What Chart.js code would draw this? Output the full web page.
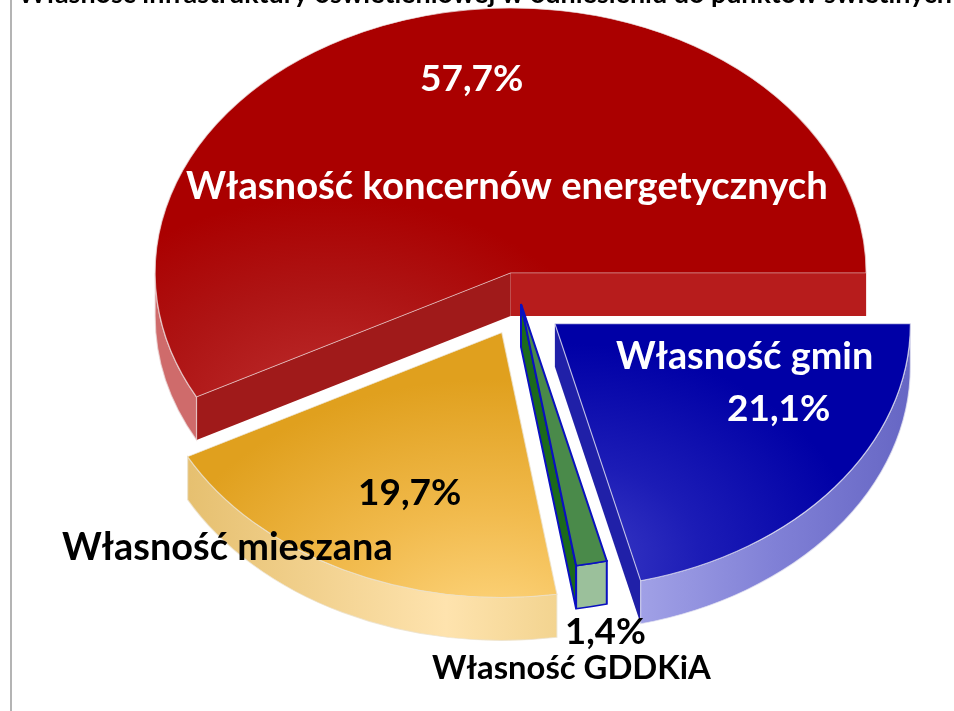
<!DOCTYPE html>
<html lang="pl">
<head>
<meta charset="utf-8">
<title>Własność infrastruktury oświetleniowej</title>
<script src="https://cdn.jsdelivr.net/npm/chart.js@4"></script>
<style>
html,body{margin:0;padding:0;background:#fff;overflow:hidden}
canvas{display:block;filter:blur(0.5px)}
</style>
</head>
<body>
<canvas id="c" width="954" height="711"></canvas>
<script>
const titleText = "Własność infrastruktury oświetleniowej w odniesieniu do punktów świetlnych";
const categories = ["Własność gmin", "Własność GDDKiA", "Własność mieszana", "Własność koncernów energetycznych"];
const shares = [21.1, 1.4, 19.7, 57.7];
const shareLabels = ["21,1%", "1,4%", "19,7%", "57,7%"];
const explode = [43, 0, 43, 43];

const K = 0.745, CX = 521, CY = 304, RADIUS = 355.5, DEPTH = 43;
const sy = y => CY + (y - CY) / K;   // screen y -> squashed-space y

const ctx = document.getElementById('c').getContext('2d');
function radial(x0, y0, r, stops) {
  const g = ctx.createRadialGradient(x0, sy(y0), 0, x0, sy(y0), r);
  stops.forEach(s => g.addColorStop(s[0], s[1]));
  return g;
}
function linear(x0, x1, stops) {
  const g = ctx.createLinearGradient(x0, 0, x1, 0);
  stops.forEach(s => g.addColorStop(s[0], s[1]));
  return g;
}
const topFills = [
  radial(570, 560, 290, [[0, '#3c3cc6'], [0.45, '#1c1cb6'], [1, '#0000a6']]),
  '#4a8a4a',
  radial(490, 640, 350, [[0, '#ffd884'], [0.5, '#f1ba4c'], [1, '#e0a01e']]),
  radial(330, 420, 300, [[0, '#be3030'], [0.6, '#ae1414'], [1, '#aa0000']])
];
const rimFills = [
  linear(642, 910, [[0, '#a0a0e6'], [0.5, '#8080d6'], [1, '#6666c4']]),
  '#9bc09b',
  linear(189, 556, [[0, '#e6c070'], [0.7, '#fee3ae'], [1, '#f3d490']]),
  '#cf6b6b'
];
const cutStart = [null, null, null, '#a01a1a'];
const cutEnd = ['#2020a8', '#1c6a1c', null, '#b71c1c'];
const edgeColors = ['rgba(225,225,240,0.75)', '#0a10c0', 'rgba(235,225,205,0.75)', 'rgba(235,215,215,0.75)'];
const edgeWidths = [1.2, 2, 1.2, 1.2];

const squashPie = {
  id: 'squashPie',
  afterDatasetsUpdate(chart) {
    chart.getDatasetMeta(0).data.forEach((arc, i) => {
      const half = (arc.startAngle + arc.endAngle) / 2;
      arc.x += Math.cos(half) * explode[i];
      arc.y += Math.sin(half) * explode[i];
    });
  },
  beforeDraw(chart) {
    const c = chart.ctx;
    c.save();
    c.fillStyle = '#fff';
    c.fillRect(0, 0, chart.width, chart.height);
    c.fillStyle = '#b4b4b4';
    c.fillRect(10, 0, 2, chart.height);
    c.fillStyle = '#000';
    c.font = 'bold 26.9px Lato';
    c.textAlign = 'left';
    c.textBaseline = 'alphabetic';
    c.fillText(titleText, 18, 3);
    c.restore();
  },
  beforeDatasetsDraw(chart) {
    const c = chart.ctx;
    c.save();
    c.translate(0, CY);
    c.scale(1, K);
    c.translate(0, -CY);
    const d = DEPTH / K;
    const arcs = chart.getDatasetMeta(0).data;
    [3, 2, 1, 0].forEach(i => {
      const arc = arcs[i];
      const x = arc.x, y = arc.y;
      const R = arc.outerRadius;
      c.lineWidth = edgeWidths[i];
      c.strokeStyle = edgeColors[i];
      const face = (ang, col) => {
        if (!col) return;
        const ex = x + Math.cos(ang) * R, ey = y + Math.sin(ang) * R;
        c.beginPath();
        c.moveTo(x, y);
        c.lineTo(ex, ey);
        c.lineTo(ex, ey + d);
        c.lineTo(x, y + d);
        c.closePath();
        c.fillStyle = col;
        c.fill();
        if (i === 1) c.stroke();
      };
      face(arc.startAngle, cutStart[i]);
      face(arc.endAngle, cutEnd[i]);
      const a = Math.max(arc.startAngle, 0), b = Math.min(arc.endAngle, Math.PI);
      if (a < b) {
        c.beginPath();
        c.arc(x, y, R, a, b);
        c.arc(x, y + d, R, b, a, true);
        c.closePath();
        c.fillStyle = rimFills[i];
        c.fill();
        c.stroke();
      }
    });
  },
  afterDatasetsDraw(chart) {
    const c = chart.ctx;
    c.restore();
    c.save();
    c.textAlign = 'left';
    c.textBaseline = 'alphabetic';
    const put = (txt, x, y, size, col) => {
      c.font = 'bold ' + size + 'px Lato';
      c.fillStyle = col;
      c.fillText(txt, x, y);
    };
    put(shareLabels[3], 420, 91, 37, '#fff');
    put(categories[3], 186, 199, 38.2, '#fff');
    put(categories[0], 616, 369, 37.8, '#fff');
    put(shareLabels[0], 727, 421, 37, '#fff');
    put(shareLabels[2], 358, 505, 37, '#000');
    put(categories[2], 62, 560, 37.9, '#000');
    put(shareLabels[1], 565, 644, 36.5, '#000');
    put(categories[1], 432, 679, 32.8, '#000');
    c.restore();
  }
};

new Chart(ctx, {
  type: 'pie',
  data: {
    labels: categories,
    datasets: [{
      data: shares,
      backgroundColor: topFills,
      borderColor: edgeColors,
      borderWidth: edgeWidths,
      borderJoinStyle: 'miter',
      clip: false
    }]
  },
  options: {
    responsive: false,
    animation: false,
    rotation: 90,
    radius: RADIUS,
    layout: { padding: { left: 2 * CX - 954, bottom: 711 - 2 * CY } },
    plugins: { legend: { display: false }, tooltip: { enabled: false }, title: { display: false } }
  },
  plugins: [squashPie]
});
</script>
</body>
</html>
